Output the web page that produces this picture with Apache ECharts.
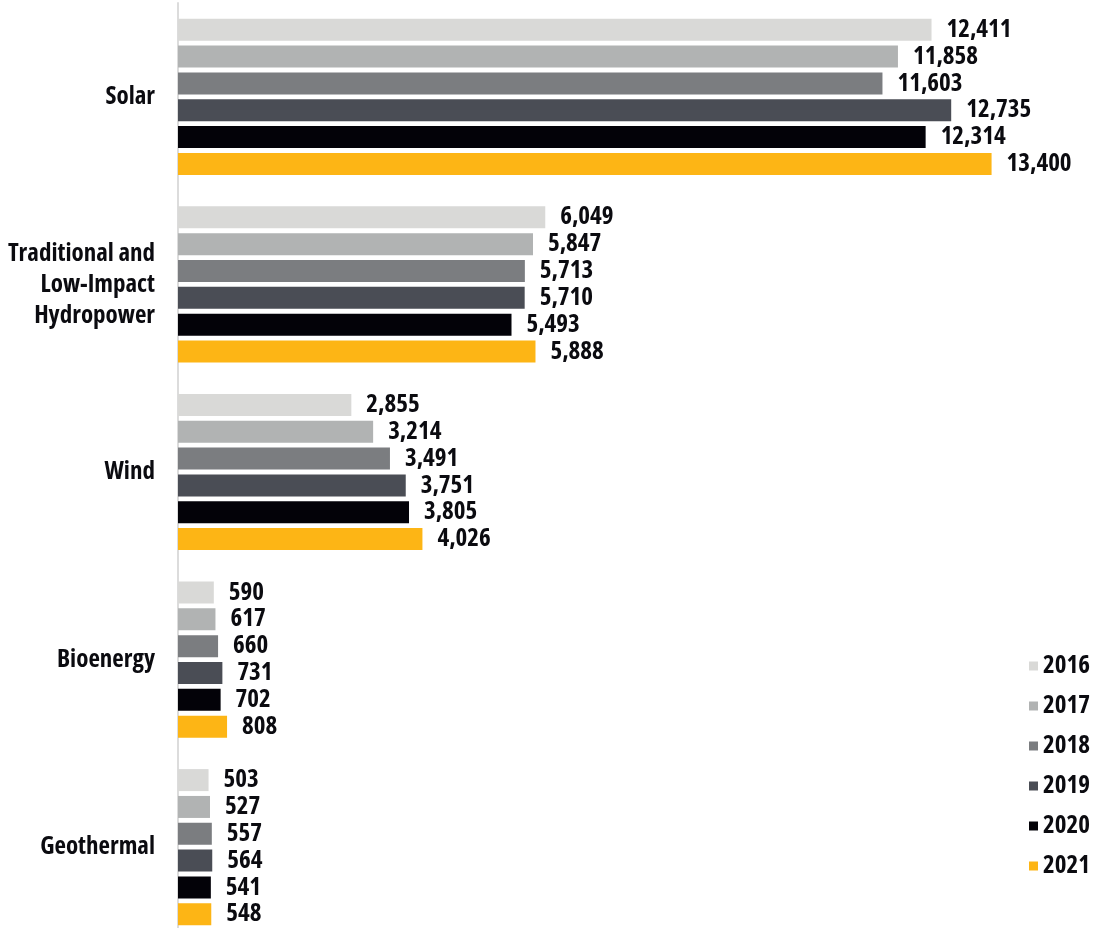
<!DOCTYPE html>
<html>
<head>
<meta charset="utf-8">
<script src="https://cdn.jsdelivr.net/npm/echarts@6/dist/echarts.min.js"></script>
<style>
  html, body { margin: 0; padding: 0; background: #ffffff; }
  #chart { width: 1093px; height: 928px; }
</style>
</head>
<body>
<div id="chart"></div>
<script>
// Renewable capacity by technology, one bar per year
const categories = ['Solar', 'Traditional and\nLow-Impact\nHydropower', 'Wind', 'Bioenergy', 'Geothermal'];
const years = ['2016', '2017', '2018', '2019', '2020', '2021'];

const values2016 = [12411, 6049, 2855, 590, 503];
const values2017 = [11858, 5847, 3214, 617, 527];
const values2018 = [11603, 5713, 3491, 660, 557];
const values2019 = [12735, 5710, 3751, 731, 564];
const values2020 = [12314, 5493, 3805, 702, 541];
const values2021 = [13400, 5888, 4026, 808, 548];

const seriesValues = [values2016, values2017, values2018, values2019, values2020, values2021];
const yearColors = ['#d9d9d7', '#b1b3b3', '#7b7d80', '#4a4d55', '#030208', '#fdb515'];

// Condensed bold face via font-stretch (Open Sans has a width axis)
const FONT = '"Open Sans", Roboto, "DejaVu Sans", sans-serif';
const WEIGHT = 'bold condensed';
const TEXT_COLOR = '#0b0b10';

const chart = echarts.init(document.getElementById('chart'), null, { renderer: 'canvas' });

const series = years.map((year, i) => ({
  name: year,
  type: 'bar',
  data: seriesValues[i],
  barWidth: 22,
  barGap: '22%',
  itemStyle: { color: yearColors[i] },
  label: {
    show: true,
    position: 'right',
    distance: 15,
    color: TEXT_COLOR,
    fontFamily: FONT,
    fontWeight: WEIGHT,
    fontSize: 25,
    formatter: p => p.value.toLocaleString('en-US')
  },
  emphasis: { disabled: true },
  animation: false
}));

chart.setOption({
  backgroundColor: '#ffffff',
  animation: false,
  grid: { left: 178, top: 3, height: 938, width: 850, containLabel: false, outerBoundsMode: 'none' },
  xAxis: {
    type: 'value',
    min: 0,
    max: 14000,
    show: false,
    splitLine: { show: false }
  },
  yAxis: {
    type: 'category',
    data: categories,
    inverse: true,
    axisLine: { show: true, lineStyle: { color: '#dcdcdc', width: 2 } },
    axisTick: { show: false },
    axisLabel: {
      margin: 23,
      color: TEXT_COLOR,
      fontFamily: FONT,
      fontWeight: WEIGHT,
      fontSize: 25,
      lineHeight: 31,
      align: 'right'
    }
  },
  legend: {
    orient: 'vertical',
    left: 1029,
    top: 651,
    padding: 0,
    itemWidth: 9,
    itemHeight: 9,
    itemGap: 10,
    icon: 'rect',
    data: years,
    textStyle: {
      color: TEXT_COLOR,
      fontFamily: FONT,
      fontWeight: WEIGHT,
      fontSize: 25,
      lineHeight: 30
    }
  },
  series: series
});
</script>
</body>
</html>
